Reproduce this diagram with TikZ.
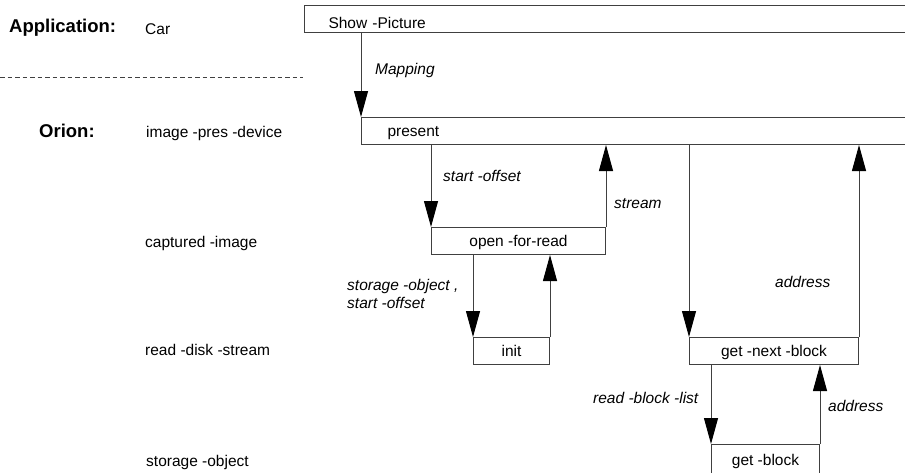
\documentclass[tikz,border=0pt]{standalone}
\usepackage{fontspec}
\setmainfont{Liberation Sans}
\usetikzlibrary{arrows.meta}

\begin{document}
\begin{tikzpicture} [x=1pt, y=-1pt,
	box/.style={draw=black!75, line width=1pt, inner sep=0pt, anchor=north west, minimum height=27pt, text height=11pt, text depth=0pt, font=\fontsize{15.5}{18}\selectfont},
	msg/.style={draw=black!75, line width=1pt, -{Triangle[length=26pt, width=14pt, color=black]}},
	lbl/.style={inner sep=0pt, anchor=base west, font=\fontsize{15.5}{18}\selectfont},
	tag/.style={lbl, font=\fontsize{15.5}{18}\selectfont\itshape},
	layer/.style={lbl, font=\fontsize{18.5}{22}\selectfont\bfseries}]
	\useasboundingbox (0,0) rectangle (905,472);
	\clip (0,0) rectangle (905,472);
	\node[layer] (app) at (9,32) {Application:};
	\node[lbl] (car) at (145,34) {Car};
	\draw[black!75, line width=1pt, dash pattern=on 4.5pt off 3pt] (0,77) -- (303,77);
	\node[layer] (orion) at (39,137) {Orion:};
	\node[lbl] (imgdev) at (146,137) {image -pres -device};
	\node[lbl] (capimg) at (145,247) {captured -image};
	\node[lbl] (readdisk) at (145,355) {read -disk -stream};
	\node[lbl] (storobj) at (146,466) {storage -object};
	\node[box, inner xsep=24pt, text width=560pt, align=left, text height=19pt] (showpic) at (304,5) {Show -Picture};
	\node[box, inner xsep=26pt, text width=500pt, align=left] (present) at (361,117) {present};
	\node[box, minimum width=174pt] (openread) at (431,227) {open -for-read};
	\node[box, minimum width=76pt] (init) at (473,337) {init};
	\node[box, minimum width=169pt] (getnext) at (689,337) {get -next -block};
	\node[box, minimum width=108pt, minimum height=30pt] (getblock) at (711,444) {get -block};
	\draw[msg] (present.north west |- showpic.south) -- (present.north west);
	\node[tag] (mapping) at (375,74) {Mapping};
	\draw[msg] (openread.north west |- present.south) -- (openread.north west);
	\node[tag] (offset) at (443,181) {start -offset};
	\draw[msg] (openread.north east) -- (openread.north east |- present.south);
	\node[tag] (stream) at (614,208) {stream};
	\draw[msg] (init.north west |- openread.south) -- (init.north west);
	\draw[msg] (init.north east) -- (init.north east |- openread.south);
	\node[tag, anchor=north west, align=left] (storoff) at (347,279) {storage -object ,\\start -offset};
	\draw[msg] (getnext.north west |- present.south) -- (getnext.north west);
	\draw[msg] (getnext.north east) -- (getnext.north east |- present.south);
	\node[tag] (addr) at (775,287) {address};
	\draw[msg] (getblock.north west |- getnext.south) -- (getblock.north west);
	\draw[msg] (getblock.north east) -- (getblock.north east |- getnext.south);
	\node[tag] (blocklist) at (593,403) {read -block -list};
	\node[tag] (addrb) at (828,411) {address};
\end{tikzpicture}
\end{document}
